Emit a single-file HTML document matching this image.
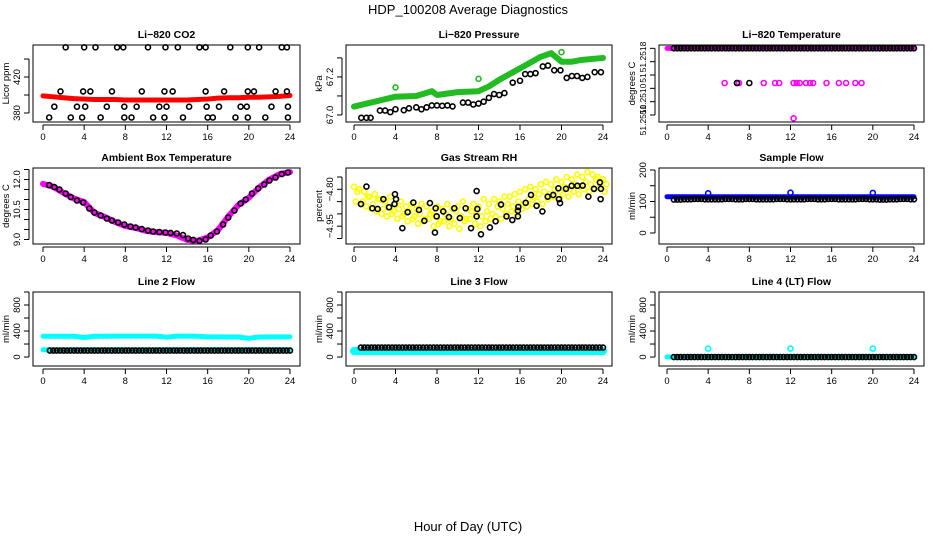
<!DOCTYPE html>
<html><head><meta charset="utf-8"><style>
html,body{margin:0;padding:0;background:#fff;}
svg{display:block;font-family:"Liberation Sans",sans-serif;}
</style></head><body>
<svg id="chart" width="936" height="540" viewBox="0 0 936 540" xmlns="http://www.w3.org/2000/svg">
<text x="468" y="14" text-anchor="middle" font-size="13">HDP_100208  Average Diagnostics</text>
<text x="468" y="531" text-anchor="middle" font-size="13">Hour of Day (UTC)</text>
</svg>
<script>
// ---------- data ----------
const xTicks = [0,4,8,12,16,20,24];
const hours = [0,1,2,3,4,5,6,7,8,9,10,11,12,13,14,15,16,17,18,19,20,21,22,23,24];

// CO2
const co2Red = [399,398,397,396,395.5,395,395,395,394.5,394.5,394.5,394.5,394.5,394.5,394.5,395,395.5,396.5,397,397,397.5,397.5,398,398.5,399.5];
const co2BlackH = [2.2,4.0,5.1,7.2,7.8,10.2,11.9,13.1,15.2,15.8,18.2,19.9,21.0,23.2,23.7, 1.7,3.9,4.6,6.7,9.6,11.8,12.6,15.8,17.6,19.9,20.5,22.6,23.7, 1.1,3.3,4.1,6.2,7.9,9.1,11.3,12.0,14.2,15.9,17.1,19.2,19.8,22.2,23.8, 0.6,2.7,3.8,5.6,7.9,8.6,10.7,11.8,13.6,16.0,16.5,18.7,19.9,21.6,23.8];
const co2BlackV = [453,453,453,453,453,453,453,453,453,453,453,453,453,453,453, 404,404,404,404,404,404,404,404,404,404,404,404,404, 387,387,387,387,387,387,387,387,387,387,387,387,387,387,387, 375,375,375,375,375,375,375,375,375,375,375,375,375,375,375];

// Pressure
const presH = [0,2,4,6,7.5,8,10,12,13,14,16,18,19,20,21,22,24];
const presGreen = [67.044,67.07,67.096,67.10,67.125,67.105,67.12,67.125,67.15,67.185,67.245,67.306,67.325,67.28,67.28,67.29,67.30];
const presOutH = [4,12,20];
const presOutV = [67.145,67.19,67.33];
const presBlackH = [0.7,1.2,1.6,2.5,3.0,3.5,4.0,4.8,5.3,6.0,6.5,7,7.5,8,8.5,9,9.5,10.5,11,11.5,12,12.5,13,13.5,14,14.5,15.3,16,16.5,17,17.5,18.2,18.7,19.3,19.9,20.5,21,21.5,22,22.5,23.2,23.8];
const presBlackV = [66.985,66.985,66.985,67.023,67.023,67.015,67.03,67.025,67.035,67.04,67.03,67.04,67.05,67.05,67.048,67.05,67.045,67.065,67.065,67.055,67.06,67.07,67.09,67.11,67.105,67.115,67.17,67.18,67.215,67.215,67.22,67.255,67.26,67.235,67.235,67.195,67.205,67.205,67.195,67.2,67.225,67.225];

// Li-820 temperature
const tempTop = 51.2520;
const tempMidH = [5.6,6.8,7.0,9.4,10.5,10.9,12.3,12.6,12.9,13.5,13.9,14.2,15.5,16.7,17.4,18.3,18.9];
const tempMidV = 51.25148;
const tempBlackMidH = [6.8,8.0];
const tempLowH = [12.3];
const tempLowV = [51.25095];

// Ambient box temperature
const ambMag = [11.78,11.64,11.33,11.05,10.87,10.33,10.13,9.88,9.67,9.58,9.43,9.37,9.33,9.2,8.98,8.93,9.1,9.47,10.15,10.73,11.09,11.6,12.0,12.27,12.37];
const ambBlackH = [0.6,1.1,1.6,2.2,2.7,3.3,3.9,4.5,5.0,5.6,6.2,6.7,7.3,7.9,8.5,9.0,9.6,10.2,10.7,11.3,11.9,12.4,13.0,13.6,14.1,14.6,15.2,15.8,16.3,16.9,17.5,18.0,18.6,19.2,19.7,20.3,20.9,21.5,22.0,22.6,23.2,23.8];
const ambBlackV = [11.72,11.62,11.5,11.3,11.12,10.95,10.85,10.55,10.35,10.2,10.05,9.95,9.85,9.75,9.65,9.6,9.52,9.45,9.4,9.37,9.35,9.33,9.3,9.22,9.05,8.98,8.93,9.0,9.2,9.4,9.75,10.1,10.45,10.8,11.0,11.3,11.55,11.75,11.95,12.1,12.27,12.35];

// Gas stream RH
const rhA = [-4.79,-4.80,-4.81,-4.83,-4.82,-4.84,-4.85,-4.83,-4.86,-4.85,-4.87,-4.86,-4.88,-4.86,-4.87,-4.89,-4.87,-4.88,-4.86,-4.88,-4.87,-4.85,-4.88,-4.86,-4.87,-4.84,-4.86,-4.84,-4.85,-4.83,-4.83,-4.82,-4.81,-4.80,-4.79,-4.80,-4.78,-4.77,-4.78,-4.76,-4.77,-4.75,-4.76,-4.74,-4.75,-4.73,-4.74,-4.75,-4.76];
const rhB = [-4.85,-4.86,-4.87,-4.88,-4.89,-4.90,-4.91,-4.90,-4.92,-4.91,-4.93,-4.92,-4.94,-4.93,-4.92,-4.95,-4.94,-4.93,-4.95,-4.94,-4.96,-4.93,-4.92,-4.94,-4.95,-4.93,-4.92,-4.91,-4.92,-4.90,-4.89,-4.90,-4.88,-4.87,-4.86,-4.85,-4.86,-4.84,-4.83,-4.84,-4.82,-4.83,-4.81,-4.82,-4.80,-4.81,-4.80,-4.79,-4.81];
const rhC = [-4.81,-4.85,-4.83,-4.86,-4.84,-4.88,-4.87,-4.89,-4.88,-4.90,-4.89,-4.91,-4.90,-4.92,-4.90,-4.91,-4.93,-4.90,-4.92,-4.89,-4.91,-4.92,-4.89,-4.90,-4.91,-4.89,-4.90,-4.87,-4.88,-4.86,-4.87,-4.85,-4.86,-4.84,-4.83,-4.82,-4.81,-4.82,-4.80,-4.81,-4.79,-4.80,-4.78,-4.79,-4.77,-4.78,-4.76,-4.77,-4.78];
const rhBlackH = [1.2,0.67,1.77,2.28,2.83,3.38,3.95,4.05,3.9,4.66,5.17,5.72,6.26,6.78,7.32,7.87,7.8,7.97,8.6,9.15,9.67,10.2,10.76,11.28,11.82,11.89,11.82,12.24,13.1,13.65,14.17,14.7,15.26,15.8,15.84,15.8,16.55,17.06,17.6,18.16,18.67,19.2,19.7,19.76,19.86,20.43,20.98,21.53,22.04,22.59,23.13,23.7,23.8,23.77];
const rhBlackV = [-4.789,-4.86,-4.877,-4.88,-4.84,-4.873,-4.82,-4.84,-4.86,-4.958,-4.893,-4.854,-4.884,-4.928,-4.856,-4.877,-4.976,-4.91,-4.89,-4.913,-4.877,-4.917,-4.877,-4.958,-4.807,-4.88,-4.91,-4.983,-4.955,-4.93,-4.862,-4.91,-4.925,-4.91,-4.872,-4.887,-4.855,-4.823,-4.867,-4.89,-4.83,-4.823,-4.796,-4.84,-4.856,-4.798,-4.786,-4.786,-4.785,-4.83,-4.798,-4.772,-4.798,-4.84];

// Sample flow
const sampleBlue = [115,115,115,115,115,115,115,115,115,115,115,115,115,115,115,115,115,115,115,115,115,115,115,115,115];
const sampleBlack = [107,106,107,108,107,107,108,107,108,107,107,108,107,107,108,107,108,107,107,108,107,106,107,108,107];
const flowOutH = [4,12,20];
const sampleOutV = [126,128,127];

// Line 2 flow
const l2CyanHi = [320,320,320,320,300,320,320,322,322,322,322,322,305,322,322,320,310,310,308,308,288,308,310,310,310];
const l2CyanLo = [112,112,112,112,112,112,112,112,112,112,112,112,112,112,112,112,112,112,112,112,112,112,112,112,112];
const l2Black = [100,100,100,100,100,100,100,100,100,100,100,100,100,100,100,100,100,100,100,100,100,100,100,100,100];

// Line 3 flow
const l3Cyan = [92,92,92,92,92,92,92,92,92,92,92,92,92,92,92,92,92,92,92,92,92,92,92,92,92];
const l3Black = [145,145,145,145,145,145,145,145,145,145,145,145,145,145,145,145,145,145,145,145,145,145,145,145,145];

// Line 4 flow
const l4Cyan = [0,0,0,0,0,0,0,0,0,0,0,0,0,0,0,0,0,0,0,0,0,0,0,0,0];
const l4Black = [0,0,0,0,0,0,0,0,0,0,0,0,0,0,0,0,0,0,0,0,0,0,0,0,0];
const l4OutV = [130,130,130];

// ---------- drawing ----------
const svg = document.getElementById('chart');
const NS = 'http://www.w3.org/2000/svg';
function mk(tag, attrs, parent){const e=document.createElementNS(NS,tag);for(const k in attrs)e.setAttribute(k,attrs[k]);(parent||svg).appendChild(e);return e;}

function panel(p){
  const g = mk('g',{});
  
  
  const xs = h => p.x0 + (p.x24 - p.x0) * h / 24;
  const ys = v => p.top + (p.vTop - v) / (p.vTop - p.vBot) * (p.bot - p.top);
  const box = mk('rect',{x:p.left,y:p.top,width:p.right-p.left,height:p.bot-p.top,fill:'none',stroke:'#000','stroke-width':1},g);
  
  
  const t = mk('text',{x:(p.left+p.right)/2,y:p.top-7,'text-anchor':'middle','font-size':10.5,'font-weight':'bold'},g);
  t.textContent = p.title;
  
  
  const xa = mk('g',{},g);
  
  
  mk('line',{x1:xs(xTicks[0]),x2:xs(xTicks[xTicks.length-1]),y1:p.bot+3,y2:p.bot+3,stroke:'#000'},xa);
  xTicks.forEach(h=>{
    mk('line',{x1:xs(h),x2:xs(h),y1:p.bot+3,y2:p.bot+8,stroke:'#000'},xa);
    const tl = mk('text',{x:xs(h),y:p.bot+18,'text-anchor':'middle','font-size':9.5},xa);
    tl.textContent = h;
    
    
  });
  const ya = mk('g',{},g);
  
  
  const ax = p.left - 4;
  mk('line',{x1:ax,x2:ax,y1:ys(p.yTicks[0]),y2:ys(p.yTicks[p.yTicks.length-1]),stroke:'#000'},ya);
  p.yTicks.forEach(v=>mk('line',{x1:ax-5,x2:ax,y1:ys(v),y2:ys(v),stroke:'#000'},ya));
  p.yLabels.forEach((lab,i)=>{
    const yy = p.yLabelPos ? p.yLabelPos[i] : ys(p.yLabelVals[i]);
    const tl = mk('text',{x:0,y:0,'text-anchor':'middle','font-size':p.yFont||9.5,transform:`translate(${ax-9},${yy}) rotate(-90)`},ya);
    tl.textContent = lab;
    
    
  });
  const yt = mk('text',{x:0,y:0,'text-anchor':'middle','font-size':9.5,transform:`translate(${p.left-24},${(p.top+p.bot)/2}) rotate(-90)`},g);
  yt.textContent = p.ytitle;
  
  
  const clip = mk('g',{},g);
  
  
  return {xs, ys, g: clip};
}
function band(P, hs, vs, color, w, name){
  const pl = mk('polyline',{points:hs.map((h,i)=>P.xs(h)+','+P.ys(vs[i])).join(' '),fill:'none',stroke:color,'stroke-width':w,'stroke-linecap':'round','stroke-linejoin':'round'},P.g);
  
  
}
function pts(P, hs, vs, color, name, r){
  hs.forEach((h,i)=>{
    const v = Array.isArray(vs) ? vs[i] : vs;
    const c = mk('circle',{cx:P.xs(h),cy:P.ys(v),r:r||2.5,fill:'none',stroke:color,'stroke-width':1.6},P.g);
    
    
  });
}
function triPts(P, vals, color, name){
  const hs=[], vs=[];
  hours.forEach((h,i)=>{ if(h>=24) return; [0.67,1.0,1.33].forEach(o=>{ if(h+o<=24){hs.push(h+o);vs.push(vals[Math.min(i+1,vals.length-1)]);} }); });
  pts(P, hs, vs, color, name);
}
const col = [{left:33,right:300,x0:43,x24:290},{left:346,right:612,x0:354,x24:603},{left:659,right:924,x0:667,x24:914}];
const row = [{top:45,bot:122},{top:168,bot:244},{top:292,bot:366}];
function cfg(c,r,o){return Object.assign({},col[c],row[r],o);}

let P = panel(cfg(0,0,{name:'co2-panel',title:'Li\u2212820 CO2',ytitle:'Licor ppm',vTop:455.6,vBot:370,yTicks:[380,400,420,440],yLabels:['380','420'],yLabelVals:[380,420]}));
band(P, hours, co2Red, '#ff0000', 5, 'co2-series-red');
pts(P, co2BlackH, co2BlackV, '#000', 'co2-point-black');

P = panel(cfg(1,0,{name:'pressure-panel',title:'Li\u2212820 Pressure',ytitle:'kPa',vTop:67.368,vBot:66.963,yTicks:[67.0,67.1,67.2,67.3],yLabels:['67.0','67.2'],yLabelVals:[67.0,67.2]}));
band(P, presH, presGreen, '#22bb22', 6, 'pressure-series-green');
pts(P, presOutH, presOutV, '#22bb22', 'pressure-point-green');
pts(P, presBlackH, presBlackV, '#000', 'pressure-point-black');

P = panel(cfg(2,0,{name:'li820-temperature-panel',title:'Li\u2212820 Temperature',ytitle:'degrees C',yFont:8.5,vTop:51.25205,vBot:51.250895,yTicks:[51.2510,51.2512,51.2514,51.2516,51.2518,51.2520],yLabels:['51.2510','51.2510','51','51.2518'],yLabelPos:[120,99,78,57]}));
band(P, [0,24], [tempTop,tempTop], '#ff00ff', 5, 'temp-series-magenta');
pts(P, tempMidH, tempMidV, '#ff00ff', 'temp-point-magenta');
pts(P, tempLowH, tempLowV, '#ff00ff', 'temp-point-magenta');
pts(P, tempBlackMidH, tempMidV, '#000', 'temp-point-black');
triPts(P, hours.map(()=>tempTop), '#000', 'temp-point-black');

P = panel(cfg(0,1,{name:'ambient-temperature-panel',title:'Ambient Box Temperature',ytitle:'degrees C',vTop:12.575,vBot:8.775,yTicks:[9.0,9.5,10.0,10.5,11.0,11.5,12.0,12.5],yLabels:['9.0','10.5','12.0'],yLabelVals:[9.0,10.5,12.0]}));
band(P, hours, ambMag, '#ff00ff', 6, 'ambient-series-magenta');
pts(P, ambBlackH, ambBlackV, '#000', 'ambient-point-black');

P = panel(cfg(1,1,{name:'rh-panel',title:'Gas Stream RH',ytitle:'percent',vTop:-4.7134,vBot:-5.0224,yTicks:[-4.75,-4.80,-4.85,-4.90,-4.95,-5.00],yLabels:['\u22124.80','\u22124.95'],yLabelVals:[-4.80,-4.95]}));
const rhH = rhA.map((_,i)=>i*0.5);
pts(P, rhH, rhA, '#ffff00', 'rh-point-yellow');
pts(P, rhH.map(h=>h+0.17), rhB, '#ffff00', 'rh-point-yellow');
pts(P, rhH.map(h=>h+0.33), rhC, '#ffff00', 'rh-point-yellow');
pts(P, rhBlackH, rhBlackV, '#000', 'rh-point-black');

P = panel(cfg(2,1,{name:'sample-flow-panel',title:'Sample Flow',ytitle:'ml/min',vTop:206.3,vBot:-34.9,yTicks:[0,50,100,150,200],yLabels:['0','100','200'],yLabelVals:[0,100,200]}));
band(P, hours, sampleBlue, '#0000ff', 5, 'sample-flow-series-blue');
pts(P, flowOutH, sampleOutV, '#0000ff', 'sample-flow-point-blue');
triPts(P, sampleBlack, '#000', 'sample-flow-point-black');

const flowTicks=[0,200,400,600,800,1000];
P = panel(cfg(0,2,{name:'line2-flow-panel',title:'Line 2 Flow',ytitle:'ml/min',vTop:1000,vBot:-138,yTicks:flowTicks,yLabels:['0','400','800'],yLabelVals:[0,400,800]}));
band(P, hours, l2CyanHi, '#00ffff', 5, 'line2-series-cyan-high');
band(P, hours, l2CyanLo, '#00ffff', 5, 'line2-series-cyan-low');
triPts(P, l2Black, '#000', 'line2-point-black');

P = panel(cfg(1,2,{name:'line3-flow-panel',title:'Line 3 Flow',ytitle:'ml/min',vTop:1000,vBot:-138,yTicks:flowTicks,yLabels:['0','400','800'],yLabelVals:[0,400,800]}));
band(P, hours, l3Cyan, '#00ffff', 8, 'line3-series-cyan');
triPts(P, l3Black, '#000', 'line3-point-black');

P = panel(cfg(2,2,{name:'line4-flow-panel',title:'Line 4 (LT) Flow',ytitle:'ml/min',vTop:1000,vBot:-138,yTicks:flowTicks,yLabels:['0','400','800'],yLabelVals:[0,400,800]}));
band(P, hours, l4Cyan, '#00ffff', 5, 'line4-series-cyan');
pts(P, flowOutH, l4OutV, '#00ffff', 'line4-point-cyan');
triPts(P, l4Black, '#000', 'line4-point-black');
</script>
</body></html>
